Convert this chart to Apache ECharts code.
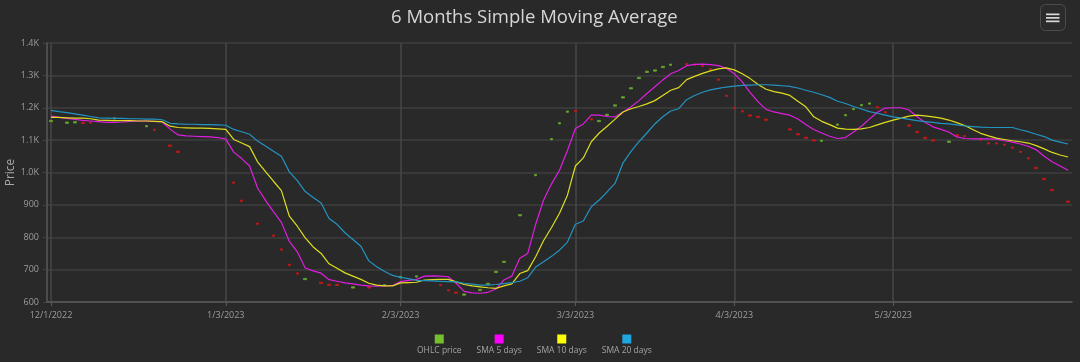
<!DOCTYPE html>
<html><head><meta charset="utf-8">
<script src="https://cdn.jsdelivr.net/npm/echarts@6/dist/echarts.min.js"></script>
<style>html,body{margin:0;padding:0;background:#292929;}#c{width:1080px;height:362px;}</style>
</head><body><div id="c"></div>
<script>
// ---- data ----
const xTickLabels = ['12/1/2022','1/3/2023','2/3/2023','3/3/2023','4/3/2023','5/3/2023'];
const xTickIndex = [0, 22, 44, 66, 86, 106];
const seriesNames = ['OHLC price','SMA 5 days','SMA 10 days','SMA 20 days'];
const seriesColors = ['#74c02c','#ff00ff','#ffff00','#1fa6df'];

const ohlcClose = [1161,null,1156,1157,1151,1152,null,null,1169,null,null,null,1145,1130,null,1081,1062,null,null,null,null,null,null,967,911,null,840,null,803,760,713,686,673,null,657,651,651,null,647,null,643,null,654,null,679,null,681,null,null,650,634,627,625,null,639,658,695,726,null,870,null,994,null,1105,1154,1190,1188,null,1162,1161,1180,1209,1234,1262,1294,1313,1317,1328,1335,null,1333,1331,1327,1317,1285,1235,1198,1187,1174,1170,1161,null,null,1131,1116,1105,1097,1100,null,1150,1179,1198,1210,1215,1200,1184,null,null,1143,1123,1105,1097,null,1097,1113,1110,null,1100,1088,1088,1084,1075,1062,1042,1012,978,944,null,908];
const ohlcOpen = [1157,null,1152,1153,1155,1156,null,null,1165,null,null,null,1141,1134,null,1085,1066,null,null,null,null,null,null,971,915,null,844,null,807,764,717,690,669,null,661,655,655,null,643,null,647,null,650,null,675,null,677,null,null,654,638,631,621,null,635,654,691,722,null,866,null,990,null,1101,1150,1186,1192,null,1166,1157,1176,1205,1230,1258,1290,1309,1313,1324,1331,null,1337,1335,1331,1321,1289,1239,1202,1191,1178,1174,1165,null,null,1135,1120,1109,1101,1096,null,1146,1175,1194,1206,1211,1204,1188,null,null,1147,1127,1109,1101,null,1093,1117,1114,null,1104,1092,1092,1088,1079,1066,1046,1016,982,948,null,912];

const sma5 = [1174,1170,1167,1164,1161,1159,1157,1155,1155,1156,1158,1159,1159,1158,1156,1134,1116,1113,1112,1111,1110,1108,1103,1063,1043,1020,952,914,879,846,787,755,705,696,689,669,664,659,656,652,650,649,650,651,663,667,670,680,681,680,678,658,633,628,627,630,640,668,680,735,750,840,915,965,1007,1068,1136,1150,1177,1177,1173,1172,1187,1203,1222,1244,1265,1286,1305,1315,1330,1334,1335,1333,1330,1322,1305,1280,1247,1218,1195,1187,1182,1177,1165,1148,1133,1122,1112,1105,1108,1125,1143,1165,1186,1199,1200,1200,1193,1172,1155,1141,1133,1125,1110,1105,1104,1104,1104,1103,1098,1094,1088,1081,1070,1050,1033,1020,1007];
const sma10 = [1170,1170,1169,1168,1168,1166,1162,1161,1160,1160,1160,1159,1159,1158,1157,1143,1139,1138,1137,1137,1136,1135,1133,1102,1091,1080,1033,1003,973,944,865,834,798,770,750,718,704,690,680,670,658,652,650,650,659,660,661,668,669,670,670,662,654,650,647,644,642,650,656,688,697,740,790,830,874,930,1020,1045,1095,1122,1143,1165,1187,1197,1204,1212,1222,1238,1254,1262,1287,1297,1306,1314,1320,1323,1317,1305,1290,1272,1257,1250,1245,1238,1220,1203,1172,1158,1148,1137,1134,1133,1135,1139,1147,1155,1162,1168,1174,1177,1175,1172,1168,1162,1154,1145,1133,1121,1113,1106,1102,1098,1095,1091,1083,1073,1062,1054,1048];
const sma20 = [1192,1188,1185,1181,1177,1173,1169,1168,1167,1167,1166,1166,1165,1165,1163,1152,1150,1149,1149,1148,1148,1147,1146,1133,1126,1118,1097,1082,1066,1050,1002,975,941,923,906,858,840,814,793,772,727,709,694,682,676,672,667,666,665,664,663,662,658,655,652,652,654,657,660,664,675,708,724,741,760,785,840,850,894,915,940,967,1030,1065,1095,1122,1150,1172,1190,1197,1225,1238,1248,1255,1260,1264,1267,1269,1270,1271,1271,1270,1268,1266,1261,1254,1248,1240,1232,1220,1213,1204,1196,1188,1183,1177,1172,1168,1164,1160,1157,1155,1152,1150,1147,1144,1142,1140,1139,1139,1139,1139,1132,1126,1118,1111,1100,1094,1088];

// ---- build ----
const categories = ohlcClose.map((_, i) => {
  const k = xTickIndex.indexOf(i);
  return k >= 0 ? xTickLabels[k] : 'p' + i;
});
const ohlcData = ohlcClose.map((c, i) => {
  const o = ohlcOpen[i];
  if (c == null || o == null) return ['-','-','-','-'];
  return [o, c, Math.min(o, c), Math.max(o, c)];
});
const isTick = (idx) => xTickIndex.indexOf(idx) >= 0;
const FONT = '"Open Sans", "Noto Sans", sans-serif';
const richKeys = ['a','b','c','d'];
const rich = { t: { fontSize: 8.5, color: '#a3a3a3', align: 'center', padding: [3, 0, 0, 0], fontFamily: FONT } };
richKeys.forEach((k, i) => { rich[k] = { width: 9, height: 9, backgroundColor: seriesColors[i], align: 'center' }; });

const chart = echarts.init(document.getElementById('c'), null, { renderer: 'canvas' });
chart.setOption({
  backgroundColor: '#292929',
  animation: false,
  textStyle: { fontFamily: FONT },
  title: {
    text: '6 Months Simple Moving Average',
    left: 386, top: 3,
    textStyle: { color: '#d6d6d6', fontSize: 18.5, fontWeight: 'normal', fontFamily: FONT }
  },
  graphic: [{
    type: 'group', right: 14, top: 4,
    children: [
      { type: 'rect', shape: { x: 0.5, y: 0.5, width: 25, height: 26, r: 5 }, style: { fill: '#2b2b2b', stroke: '#4c4c4c', lineWidth: 1 } },
      { type: 'rect', shape: { x: 6, y: 9.5, width: 13.5, height: 1.7 }, style: { fill: '#d8d8d8' } },
      { type: 'rect', shape: { x: 6, y: 13, width: 13.5, height: 1.7 }, style: { fill: '#d8d8d8' } },
      { type: 'rect', shape: { x: 6, y: 16.5, width: 13.5, height: 1.7 }, style: { fill: '#d8d8d8' } }
    ]
  }],
  legend: {
    data: seriesNames,
    left: 411, top: 333, padding: 0,
    icon: 'rect', itemWidth: 0, itemHeight: 0, itemGap: 10,
    formatter: (name) => '{' + richKeys[seriesNames.indexOf(name)] + '|}\n{t|' + name + '}',
    textStyle: { rich: rich, color: '#a3a3a3' }
  },
  grid: { left: 47, right: 8, top: 43, bottom: 60, containLabel: false, outerBoundsMode: 'none' },
  xAxis: {
    type: 'category', data: categories, boundaryGap: true,
    axisLine: { show: true, lineStyle: { color: '#5a5a5a', width: 1.5 } },
    axisTick: { show: true, alignWithLabel: true, interval: isTick, length: 4, lineStyle: { color: '#5a5a5a', width: 1 } },
    axisLabel: { interval: isTick, color: '#9c9c9c', fontSize: 9, margin: 9, fontFamily: FONT },
    splitLine: { show: true, interval: isTick, alignWithLabel: true, lineStyle: { color: '#474747', width: 1.5 } }
  },
  yAxis: {
    type: 'value', min: 600, max: 1400, interval: 100,
    name: 'Price', nameLocation: 'middle', nameGap: 30, nameMoveOverlap: false,
    nameTextStyle: { color: '#a8a8a8', fontSize: 12, fontFamily: FONT },
    axisLine: { show: true, lineStyle: { color: '#5a5a5a', width: 1.5 } },
    axisTick: { show: true, length: 4, lineStyle: { color: '#444' } },
    axisLabel: { color: '#9c9c9c', fontSize: 9, margin: 8, fontFamily: FONT,
      formatter: (v) => v >= 1000 ? (v / 1000).toFixed(1) + 'K' : String(v) },
    splitLine: { show: true, lineStyle: { color: '#3e3e3e', width: 1.5 } }
  },
  series: [
    { name: seriesNames[0], type: 'candlestick', data: ohlcData, barWidth: 3,
      itemStyle: { color: '#67aa2e', color0: '#c81818', borderColor: '#67aa2e', borderColor0: '#c81818', borderWidth: 0.8 } },
    { name: seriesNames[1], type: 'line', data: sma5, symbol: 'none', color: seriesColors[1],
      lineStyle: { color: '#e01ee0', width: 1.2 } },
    { name: seriesNames[2], type: 'line', data: sma10, symbol: 'none', color: seriesColors[2],
      lineStyle: { color: '#dede1e', width: 1.2 } },
    { name: seriesNames[3], type: 'line', data: sma20, symbol: 'none', color: seriesColors[3],
      lineStyle: { color: '#2394c2', width: 1.2 } }
  ]
});
</script>
</body></html>
